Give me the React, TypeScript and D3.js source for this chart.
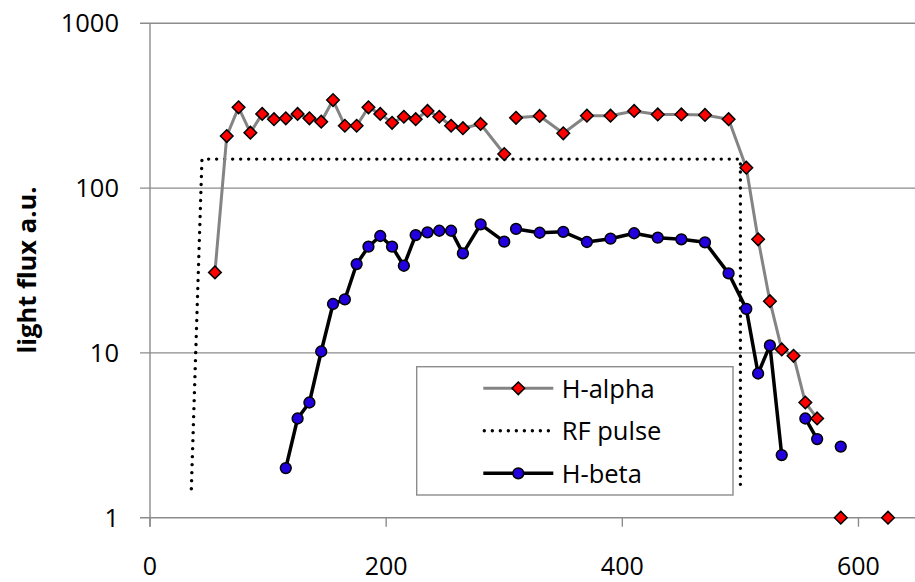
import React from "react";
import * as d3 from "d3";

// ---- data ----
const xTicks = [0, 200, 400, 600];
const yTicks = [1, 10, 100, 1000];

const haX = [55, 65, 75, 85, 95, 105, 115, 125, 135, 145, 155, 165, 175, 185, 195, 205, 215, 225, 235, 245, 255, 265, 280, 300, 305, 310, 330, 350, 370, 390, 410, 430, 450, 470, 490, 505, 515, 525, 535, 545, 555, 565, 575, 585, 605, 625];
const haY: (number | null)[] = [30.8, 207, 309, 217, 282, 262, 265, 282, 265, 253, 342, 239, 239, 309, 282, 249, 271, 262, 294, 271, 239, 231, 245, 161, null, 267, 274, 215, 275, 275, 294, 280, 280, 278, 262, 133, 48.9, 20.6, 10.5, 9.6, 5.0, 4.0, null, 1, null, 1];

const rfX = [35, 44, 500, 500];
const rfY = [1.5, 150, 150, 1.5];

const hbX = [115, 125, 135, 145, 155, 165, 175, 185, 195, 205, 215, 225, 235, 245, 255, 265, 280, 300, 305, 310, 330, 350, 370, 390, 410, 430, 450, 470, 490, 505, 515, 525, 535, 545, 555, 565, 575, 585];
const hbY: (number | null)[] = [2.0, 4.0, 5.0, 10.2, 19.8, 21.1, 34.6, 44.1, 51.2, 44.1, 33.8, 51.9, 53.9, 55.1, 55.1, 40.2, 60.3, 47.3, null, 56.5, 53.6, 54.3, 47.1, 49.3, 53.2, 50, 48.9, 46.9, 30.4, 18.5, 7.5, 11.1, 2.4, null, 4.0, 3.0, null, 2.7];

const seriesNames = ["H-alpha", "RF pulse", "H-beta"];
const yTitle = "light flux a.u.";

type P = { x: number; y: number | null };
const zip = (xs: number[], ys: (number | null)[]): P[] => xs.map((x, i) => ({ x, y: ys[i] }));

const W = 915;
const H = 582;
const FONT = "'Open Sans', 'Noto Sans', sans-serif";
const GRID = "#8c8c8c";
const RED = "#ff0000";
const BLUE = "#2200dd";

export default function App() {
  const x = d3.scaleLinear().domain([0, 700]).range([150, 150 + 700 * 1.1808]);
  const y = d3.scaleLog().domain([1, 1000]).range([517.7, 23.3]);

  const line = d3
    .line<P>()
    .defined((d) => d.y !== null)
    .x((d) => x(d.x))
    .y((d) => y(d.y as number));

  const ha = zip(haX, haY);
  const hb = zip(hbX, hbY);
  const rf = zip(rfX, rfY);

  const diamond = (cx: number, cy: number, k: number) =>
    `M${cx},${cy - k}L${cx + k},${cy}L${cx},${cy + k}L${cx - k},${cy}Z`;

  const plotLeft = x(0);
  const plotBottom = y(1);

  const legX0 = 483.3;
  const legX1 = 553.3;
  const legMid = 518.3;
  const legYs = [388.3, 430.7, 473.3];

  return (
    <svg
      width={W}
      height={H}
      style={{ position: "absolute", left: 0, top: 0, display: "block", background: "#fff" }}
    >
      {/* grid lines + y ticks */}
      {yTicks.map((t) => (
        <line key={"g" + t} x1={plotLeft - 10} x2={W} y1={y(t)} y2={y(t)} stroke={GRID} strokeWidth={1.4} />
      ))}
      {/* y axis */}
      <line x1={plotLeft} x2={plotLeft} y1={y(1000)} y2={plotBottom + 9} stroke={GRID} strokeWidth={1.4} />
      {/* x ticks */}
      {xTicks.map((t) => (
        <line key={"xt" + t} x1={x(t)} x2={x(t)} y1={plotBottom} y2={plotBottom + 9} stroke={GRID} strokeWidth={1.4} />
      ))}
      {/* y tick labels */}
      {yTicks.map((t) => (
        <text key={"yl" + t} x={119} y={y(t) + 9.1} textAnchor="end" fontFamily={FONT} fontSize={25.5} fill="#000">
          {String(t)}
        </text>
      ))}
      {/* x tick labels */}
      {xTicks.map((t) => (
        <text key={"xl" + t} x={x(t)} y={575} textAnchor="middle" fontFamily={FONT} fontSize={25} fill="#000">
          {String(t)}
        </text>
      ))}
      {/* y title */}
      <text
        transform="translate(36,270) rotate(-90)"
        textAnchor="middle"
        fontFamily={FONT}
        fontWeight="bold"
        fontSize={25.5}
        fill="#000"
      >
        {yTitle}
      </text>

      {/* RF pulse */}
      <path
        d={line(rf) || ""}
        fill="none"
        stroke="#000"
        strokeWidth={3.4}
        strokeLinecap="round"
        strokeDasharray="0.01 8"
      />

      {/* H-beta */}
      <path d={line(hb) || ""} fill="none" stroke="#000" strokeWidth={3.5} strokeLinejoin="round" />
      {hb
        .filter((d) => d.y !== null)
        .map((d, i) => (
          <circle key={"hb" + i} cx={x(d.x)} cy={y(d.y as number)} r={5.4} fill={BLUE} stroke="#000" strokeWidth={1.5} />
        ))}

      {/* H-alpha */}
      <path d={line(ha) || ""} fill="none" stroke="#848484" strokeWidth={3} strokeLinejoin="round" />
      {ha
        .filter((d) => d.y !== null)
        .map((d, i) => (
          <path key={"ha" + i} d={diamond(x(d.x), y(d.y as number), 6.3)} fill={RED} stroke="#000" strokeWidth={1.5} />
        ))}

      {/* legend */}
      <rect x={416.7} y={366.7} width={316.3} height={128.3} fill="#fff" stroke={GRID} strokeWidth={1.4} />
      <line x1={legX0} x2={legX1} y1={legYs[0]} y2={legYs[0]} stroke="#848484" strokeWidth={3} />
      <path d={diamond(legMid, legYs[0], 6.3)} fill={RED} stroke="#000" strokeWidth={1.5} />
      <line
        x1={legX0 + 1}
        x2={legX1}
        y1={legYs[1]}
        y2={legYs[1]}
        stroke="#000"
        strokeWidth={3.4}
        strokeLinecap="round"
        strokeDasharray="0.01 8"
      />
      <line x1={legX0} x2={legX1} y1={legYs[2]} y2={legYs[2]} stroke="#000" strokeWidth={3.5} />
      <circle cx={legMid} cy={legYs[2]} r={5.4} fill={BLUE} stroke="#000" strokeWidth={1.5} />
      {seriesNames.map((n, i) => (
        <text key={n} x={561.7} y={legYs[i] + 9.2} fontFamily={FONT} fontSize={25.5} fill="#000">
          {n}
        </text>
      ))}
    </svg>
  );
}
